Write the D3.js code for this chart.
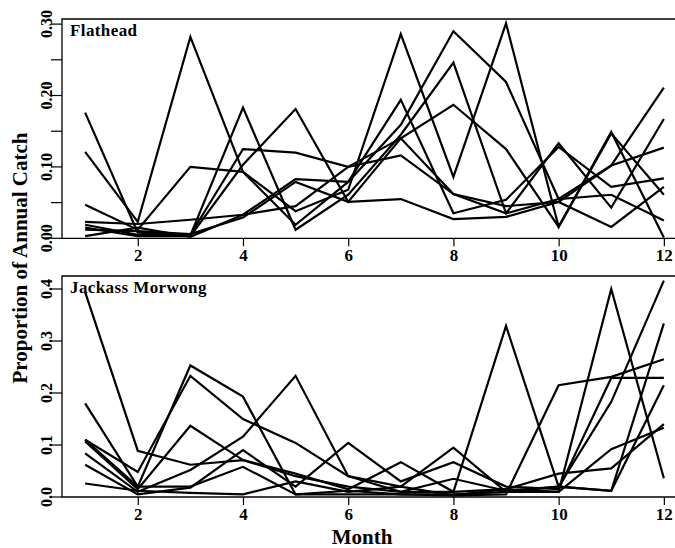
<!DOCTYPE html>
<html>
<head>
  <meta charset="utf-8">
  <script src="https://d3js.org/d3.v7.min.js"></script>
  <style>
    body { margin: 0; background: #fff; }
    text { font-family: "Liberation Serif", "Times New Roman", serif; font-weight: bold; fill: #000; }
  </style>
</head>
<body>
<script>
  "use strict";

  // months on the x axis
  var months = [1, 2, 3, 4, 5, 6, 7, 8, 9, 10, 11, 12];
  var monthTicks = [2, 4, 6, 8, 10, 12];

  // Flathead: proportion of annual catch per month, one array per year
  var flathead1 = [0.176, 0.008, 0.005, 0.125, 0.120, 0.100, 0.116, 0.062, 0.045, 0.051, 0.102, 0.127];
  var flathead2 = [0.121, 0.023, 0.282, 0.093, 0.038, 0.068, 0.286, 0.086, 0.301, 0.016, 0.149, 0.001];
  var flathead3 = [0.047, 0.012, 0.100, 0.093, 0.019, 0.079, 0.159, 0.290, 0.219, 0.055, 0.061, 0.025];
  var flathead4 = [0.023, 0.020, 0.026, 0.033, 0.083, 0.079, 0.194, 0.035, 0.054, 0.128, 0.072, 0.084];
  var flathead5 = [0.019, 0.005, 0.004, 0.183, 0.012, 0.061, 0.145, 0.246, 0.035, 0.133, 0.043, 0.167];
  var flathead6 = [0.015, 0.003, 0.003, 0.103, 0.181, 0.051, 0.140, 0.187, 0.125, 0.016, 0.147, 0.061];
  var flathead7 = [0.012, 0.010, 0.006, 0.029, 0.079, 0.051, 0.055, 0.027, 0.030, 0.051, 0.016, 0.072];
  var flathead8 = [0.003, 0.015, 0.002, 0.033, 0.045, 0.100, 0.140, 0.062, 0.035, 0.055, 0.102, 0.211];

  // Jackass Morwong
  var jackass1 = [0.394, 0.089, 0.062, 0.071, 0.040, 0.020, 0.010, 0.010, 0.015, 0.045, 0.055, 0.140];
  var jackass2 = [0.180, 0.020, 0.253, 0.193, 0.005, 0.005, 0.005, 0.003, 0.005, 0.215, 0.231, 0.265];
  var jackass3 = [0.110, 0.048, 0.233, 0.150, 0.104, 0.040, 0.020, 0.095, 0.010, 0.010, 0.400, 0.036];
  var jackass4 = [0.107, 0.015, 0.137, 0.071, 0.045, 0.015, 0.067, 0.010, 0.329, 0.020, 0.012, 0.215];
  var jackass5 = [0.084, 0.010, 0.052, 0.116, 0.233, 0.040, 0.010, 0.035, 0.012, 0.020, 0.183, 0.416];
  var jackass6 = [0.062, 0.005, 0.018, 0.090, 0.020, 0.104, 0.030, 0.067, 0.020, 0.015, 0.229, 0.229];
  var jackass7 = [0.026, 0.012, 0.008, 0.005, 0.030, 0.010, 0.020, 0.003, 0.015, 0.010, 0.092, 0.133];
  var jackass8 = [0.110, 0.020, 0.020, 0.058, 0.005, 0.012, 0.005, 0.005, 0.010, 0.020, 0.012, 0.334];

  // y tick positions and labels
  var flatheadTicks = [0, 0.05, 0.10, 0.15, 0.20, 0.25, 0.30];
  var flatheadLabels = [0, 0.10, 0.20, 0.30];
  var jackassTicks = [0, 0.1, 0.2, 0.3, 0.4];

  var width = 675, height = 548;

  var svg = d3.select("body").append("svg")
      .attr("width", width)
      .attr("height", height);

  // shared x scale (right edge runs past the picture)
  var x = d3.scaleLinear().domain([0.56, 12.44]).range([62, 687]);

  function panel(opts) {
    // y scale: domain top maps to the last tick, the frame sits a little above it
    var y = d3.scaleLinear().domain(opts.domain).range([opts.bottom, opts.tickTop]);
    var g = svg.append("g");

    var line = d3.line()
        .x(function(d, i) { return x(months[i]); })
        .y(function(d) { return y(d); });

    // series lines
    g.selectAll("path.series")
        .data(opts.series)
        .enter().append("path")
        .attr("class", "series")
        .attr("d", line)
        .attr("fill", "none")
        .attr("stroke", "#000")
        .attr("stroke-width", 2.2)
        .attr("stroke-linejoin", "miter");

    // box (left, top, bottom)
    g.append("path")
        .attr("d", "M" + (width + 5) + "," + opts.frameTop + "H62V" + opts.bottom + "H" + (width + 5))
        .attr("fill", "none")
        .attr("stroke", "#000")
        .attr("stroke-width", 1.3);

    // x axis
    var xAxis = g.append("g")
        .attr("transform", "translate(0," + opts.bottom + ")")
        .call(d3.axisBottom(x).tickValues(monthTicks).tickSize(8).tickPadding(3));
    xAxis.select(".domain").remove();
    xAxis.selectAll("line").attr("stroke-width", 1.2);
    xAxis.selectAll("text")
        .style("font-family", "'Liberation Serif', serif")
        .style("font-weight", "bold")
        .style("font-size", "17px");

    // y axis ticks
    g.selectAll("line.ytick")
        .data(opts.ticks)
        .enter().append("line")
        .attr("class", "ytick")
        .attr("x1", 51).attr("x2", 62)
        .attr("y1", function(d) { return y(d); })
        .attr("y2", function(d) { return y(d); })
        .attr("stroke", "#000")
        .attr("stroke-width", 1.2);

    // rotated y labels
    g.selectAll("text.ylab")
        .data(opts.labels)
        .enter().append("text")
        .attr("class", "ylab")
        .attr("transform", function(d) { return "translate(46," + y(d) + ") rotate(-90)"; })
        .attr("text-anchor", "middle")
        .attr("dy", "0.35em")
        .style("font-size", "16px")
        .text(function(d) { return d3.format(opts.fmt)(d); });

    // panel name
    g.append("text")
        .attr("x", 70)
        .attr("y", opts.frameTop + 17)
        .style("font-size", "17px")
        .style("letter-spacing", "0.4px")
        .text(opts.name);
  }

  panel({
    name: "Flathead",
    series: [flathead1, flathead2, flathead3, flathead4, flathead5, flathead6, flathead7, flathead8],
    domain: [0, 0.30],
    frameTop: 19, tickTop: 24.1, bottom: 238.3,
    ticks: flatheadTicks, labels: flatheadLabels, fmt: ".2f"
  });

  panel({
    name: "Jackass Morwong",
    series: [jackass1, jackass2, jackass3, jackass4, jackass5, jackass6, jackass7, jackass8],
    domain: [0, 0.4],
    frameTop: 276, tickTop: 289, bottom: 497,
    ticks: jackassTicks, labels: jackassTicks, fmt: ".1f"
  });

  // axis titles
  svg.append("text")
      .attr("x", 362)
      .attr("y", 544)
      .attr("text-anchor", "middle")
      .style("font-size", "21px")
      .text("Month");

  svg.append("text")
      .attr("transform", "translate(27,258) rotate(-90)")
      .attr("text-anchor", "middle")
      .style("font-size", "21px")
      .text("Proportion of Annual Catch");
</script>
</body>
</html>
